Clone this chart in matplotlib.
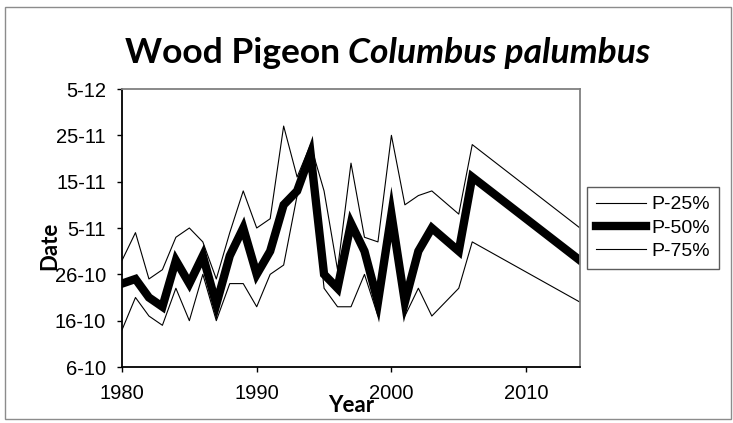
import matplotlib
matplotlib.use("Agg")
import matplotlib.pyplot as plt
from matplotlib.patches import Rectangle

# ============================================================
# Data (dates as days after 30 September)
# ============================================================
years = [1980, 1981, 1982, 1983, 1984, 1985, 1986, 1987, 1988, 1989,
         1990, 1991, 1992, 1993, 1994, 1995, 1996, 1997, 1998, 1999,
         2000, 2001, 2002, 2003, 2005, 2006, 2014]

p25 = [14, 21, 17, 15, 23, 16, 26, 16, 24, 24,
       19, 26, 28, 43, 51, 23, 19, 19, 26, 17,
       36, 17, 23, 17, 23, 33, 20]

p50 = [24, 25, 21, 19, 29, 24, 30, 19.5, 30, 36,
       26, 31, 41, 44, 52, 26, 23, 37, 31, 20,
       39, 20, 31, 36, 31, 47, 29]

p75 = [29, 35, 25, 27, 34, 36, 33, 25, 35, 44,
       36, 38, 58, 47, 54, 44, 27, 50, 34, 33,
       56, 41, 43, 44, 39, 54, 36]

date_ticks = [6, 16, 26, 36, 46, 56, 66]
date_labels = ["6-10", "16-10", "26-10", "5-11", "15-11", "25-11", "5-12"]
year_ticks = [1980, 1990, 2000, 2010]

# ============================================================
# Figure
# ============================================================
W, H = 733, 423
fig = plt.figure(figsize=(W / 100, H / 100), dpi=100)
ax = fig.add_axes([122 / W, 1 - 367 / H, (580 - 122) / W, (367 - 89) / H])

ax.plot(years, p25, color="black", lw=0.8, label="P-25%")
ax.plot(years, p50, color="black", lw=6, label="P-50%", solid_joinstyle="miter")
ax.plot(years, p75, color="black", lw=0.8, label="P-75%")

ax.set_xlim(1980, 2014)
ax.set_ylim(6, 66)
ax.set_xticks(year_ticks)
ax.set_yticks(date_ticks)
ax.set_yticklabels(date_labels)

for lab in ax.get_xticklabels() + ax.get_yticklabels():
    lab.set_fontfamily("Liberation Sans")
    lab.set_fontsize(14.5)
ax.tick_params(direction="out", length=3.6, width=1, color="black")
ax.tick_params(axis="x", pad=8.5)
ax.tick_params(axis="y", pad=8)

for side in ["left", "bottom"]:
    ax.spines[side].set_color("black")
    ax.spines[side].set_linewidth(1.3)
for side in ["top", "right"]:
    ax.spines[side].set_color("#808080")
    ax.spines[side].set_linewidth(1.3)

# axis labels
fig.text(351 / W, 1 - 411.5 / H, "Year", ha="center", va="baseline",
         family="Lato", weight="bold", fontsize=16)
fig.text(50 / W, 1 - 246 / H, "Date", ha="center", va="center", rotation=90,
         family="Lato", weight="bold", fontsize=16)

# title: plain bold + bold italic
renderer = fig.canvas.get_renderer()
t1 = fig.text(125 / W, 1 - 63 / H, "Wood Pigeon", ha="left", va="baseline",
              family="Lato", weight="bold", fontsize=25.5)
x1 = t1.get_window_extent(renderer).x1
fig.text((x1 + 8) / W, 1 - 63 / H, "Columbus palumbus", ha="left", va="baseline",
         family="Lato", weight="bold", style="italic", fontsize=25.5)

# legend
leg = fig.legend(loc="center left", bbox_to_anchor=(587 / W, 1 - 228 / H),
                 bbox_transform=fig.transFigure, frameon=True, fancybox=False,
                 prop={"family": "Liberation Sans", "size": 14},
                 handlelength=2.6, handletextpad=0.25, labelspacing=0.3,
                 borderpad=0.45, borderaxespad=0)
leg.get_frame().set_edgecolor("#333333")
leg.get_frame().set_linewidth(1)

# outer chart border
fig.patches.append(Rectangle((5 / W, 1 - 419 / H), (731 - 5) / W, (419 - 7) / H,
                             transform=fig.transFigure, fill=False,
                             edgecolor="#8c8c8c", lw=1))

fig.savefig("out.png", dpi=100)
